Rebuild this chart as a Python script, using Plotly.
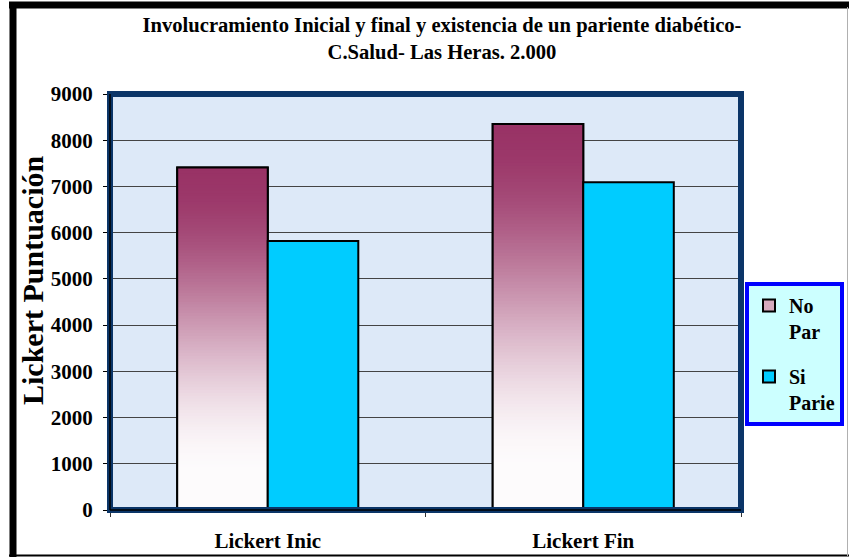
import plotly.graph_objects as go

# Data
categories = ["Lickert Inic", "Lickert Fin"]
no_par = [7410, 8350]
si_parie = [5820, 7090]
series_names = ["No<br>Par", "Si<br>Parie"]
y_ticks = [0, 1000, 2000, 3000, 4000, 5000, 6000, 7000, 8000, 9000]

W, H = 849, 557
ML, MR, MT, MB = 110, 108, 94, 47
PW, PH = W - ML - MR, H - MT - MB

FONT = "Liberation Serif"
BAR_W = 0.287
TOP_RGB = (153, 51, 102)
BOT_RGB = (253, 251, 252)
N_SEG = 120


def px_x(px):
    return (px - ML) / PW


def px_y(py):
    return (H - MB - py) / PH


def grad_color(t):
    # t = 0 at the top of the bar, 1 at the bottom; eased fade to white
    s = min(max(t / 0.9, 0.0), 1.0)
    f = s * s * (3 - 2 * s)
    c = [round(a + (b - a) * f) for a, b in zip(TOP_RGB, BOT_RGB)]
    return f"rgb({c[0]},{c[1]},{c[2]})"


fig = go.Figure()

# Base bar of the gradient series (also provides its legend swatch)
fig.add_trace(go.Bar(
    x=categories, y=no_par, name=series_names[0], legendgroup="np",
    width=BAR_W, offset=-BAR_W,
    marker=dict(color="rgb(214,170,190)", line=dict(color="black", width=2)),
    showlegend=True, hoverinfo="skip",
))

# Vertical gradient built from overlapping slices of each bar
seg_x, seg_y, seg_base, seg_col = [], [], [], []
for cat, v in zip(categories, no_par):
    step = v / N_SEG
    for i in range(N_SEG):
        lo = step * i
        seg_x.append(cat)
        seg_y.append(min(v - lo, step * 3))
        seg_base.append(lo)
        seg_col.append(grad_color(1 - (i + 0.5) / N_SEG))
fig.add_trace(go.Bar(
    x=seg_x, y=seg_y, base=seg_base, legendgroup="np",
    width=BAR_W, offset=-BAR_W,
    marker=dict(color=seg_col, line=dict(width=0)),
    showlegend=False, hoverinfo="skip",
))
# Outline for the gradient bars
fig.add_trace(go.Bar(
    x=categories, y=no_par, legendgroup="np",
    width=BAR_W, offset=-BAR_W,
    marker=dict(color="rgba(0,0,0,0)", line=dict(color="black", width=2)),
    showlegend=False, hoverinfo="skip",
))

fig.add_trace(go.Bar(
    x=categories, y=si_parie, name=series_names[1], legendgroup="sp",
    width=BAR_W, offset=0,
    marker=dict(color="#00ccff", line=dict(color="black", width=2)),
))

shapes = [
    # plot frame
    dict(type="rect", xref="paper", yref="paper", x0=0, x1=1, y0=0, y1=1,
         line=dict(color="#0b3568", width=6), layer="above"),
    dict(type="line", xref="paper", yref="paper", x0=0, x1=1, y0=0, y1=0,
         line=dict(color="black", width=1.5), layer="above"),
    dict(type="line", xref="paper", yref="paper", x0=0, x1=0, y0=0, y1=1,
         line=dict(color="black", width=1.5), layer="above"),
    # outer chart border
    dict(type="line", xref="paper", yref="paper", x0=px_x(13), x1=px_x(13),
         y0=px_y(2), y1=px_y(557), line=dict(color="black", width=7)),
    dict(type="line", xref="paper", yref="paper", x0=px_x(9), x1=px_x(849),
         y0=px_y(5), y1=px_y(5), line=dict(color="black", width=7)),
    dict(type="line", xref="paper", yref="paper", x0=px_x(9), x1=px_x(849),
         y0=px_y(555.5), y1=px_y(555.5), line=dict(color="black", width=2)),
    dict(type="line", xref="paper", yref="paper", x0=px_x(847.5), x1=px_x(847.5),
         y0=px_y(7), y1=px_y(556), line=dict(color="#b0b0b0", width=1)),
]

annotations = [
    dict(text="Lickert Puntuación", textangle=-90, xref="paper", yref="paper",
         x=px_x(32), y=px_y(281), xanchor="center", yanchor="middle",
         showarrow=False,
         font=dict(family=FONT, size=30, color="black", weight="bold")),
]

fig.update_layout(
    width=W, height=H,
    margin=dict(l=ML, r=MR, t=MT, b=MB, pad=0, autoexpand=False),
    paper_bgcolor="white",
    plot_bgcolor="#dde9f8",
    barmode="overlay",
    title=dict(
        text="Involucramiento Inicial y final y existencia de un pariente diabético-<br>C.Salud- Las Heras. 2.000",
        x=442 / W, xanchor="center", y=1 - 32 / H, yanchor="middle",
        font=dict(family=FONT, size=20.6, color="black", weight="bold"),
    ),
    font=dict(family=FONT, size=21, color="black", weight="bold"),
    xaxis=dict(
        type="category", range=[-0.5, 1.5], showgrid=False, automargin=False,
        ticks="outside", tickson="boundaries", ticklen=6, tickcolor="#333",
        showline=False, ticklabelstandoff=16,
        tickfont=dict(family=FONT, size=21, weight="bold"),
    ),
    yaxis=dict(
        range=[0, 9000], tickvals=y_ticks, showgrid=True, gridcolor="#444",
        gridwidth=1, zeroline=False, ticks="outside", ticklen=6,
        tickcolor="black", showline=False, automargin=False,
        ticklabelstandoff=6,
        tickfont=dict(family=FONT, size=21, weight="bold"),
    ),
    legend=dict(
        xref="container", yref="container",
        x=745 / W, y=1 - 282 / H, xanchor="left", yanchor="top",
        bgcolor="#ccffff", bordercolor="#0000ff", borderwidth=4,
        font=dict(family=FONT, size=20, color="black", weight="bold"),
        valign="top", itemwidth=30, traceorder="grouped", tracegroupgap=16,
    ),
    shapes=shapes,
    annotations=annotations,
    showlegend=True,
)

fig.write_html("out.html")
